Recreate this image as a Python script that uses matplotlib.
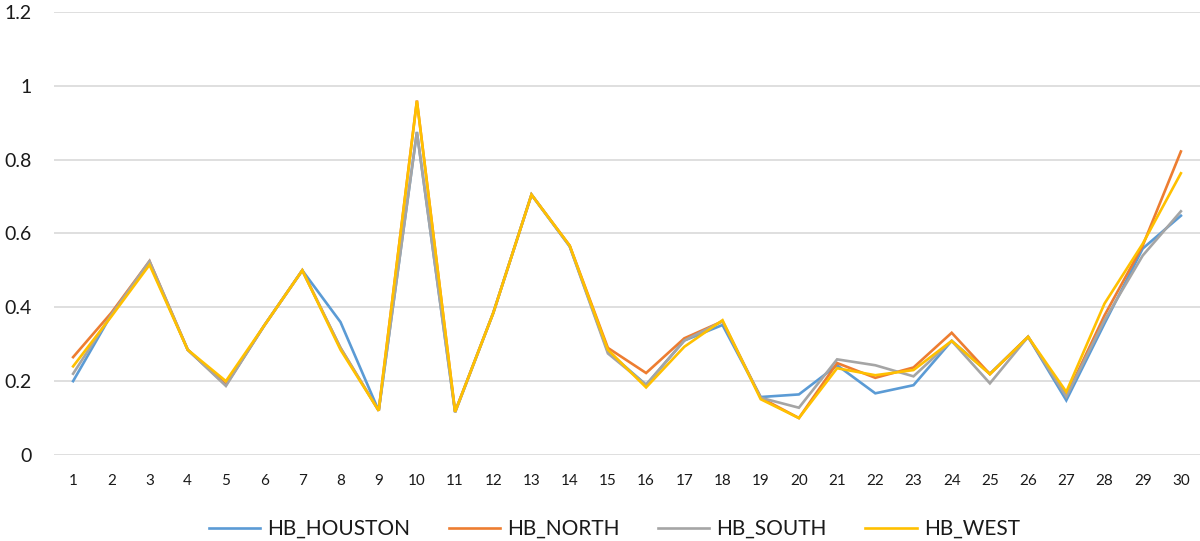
import matplotlib
matplotlib.use("Agg")
from matplotlib import pyplot as plt
import numpy as np

plt.rcParams['font.family'] = ['Lato', 'DejaVu Sans']

hours = list(range(1, 31))

houston = [0.20, 0.38, 0.52, 0.285, 0.19, 0.35, 0.50, 0.36, 0.12, 0.875,
           0.117, 0.385, 0.705, 0.565, 0.28, 0.19, 0.31, 0.352, 0.157, 0.164,
           0.243, 0.167, 0.189, 0.309, 0.22, 0.32, 0.148, 0.356, 0.559, 0.648]
north = [0.265, 0.385, 0.525, 0.285, 0.19, 0.35, 0.50, 0.29, 0.12, 0.96,
         0.117, 0.385, 0.705, 0.567, 0.29, 0.222, 0.316, 0.362, 0.155, 0.10,
         0.249, 0.209, 0.237, 0.331, 0.219, 0.32, 0.16, 0.378, 0.567, 0.822]
south = [0.22, 0.38, 0.525, 0.285, 0.187, 0.35, 0.50, 0.29, 0.12, 0.874,
         0.115, 0.385, 0.705, 0.565, 0.275, 0.19, 0.31, 0.362, 0.155, 0.128,
         0.259, 0.243, 0.213, 0.309, 0.194, 0.32, 0.158, 0.365, 0.54, 0.66]
west = [0.24, 0.375, 0.515, 0.285, 0.20, 0.35, 0.50, 0.285, 0.12, 0.959,
        0.117, 0.385, 0.705, 0.567, 0.285, 0.183, 0.293, 0.365, 0.151, 0.10,
        0.235, 0.216, 0.23, 0.309, 0.219, 0.32, 0.171, 0.41, 0.572, 0.763]

names = ["HB_HOUSTON", "HB_NORTH", "HB_SOUTH", "HB_WEST"]
colors = ["#5B9BD5", "#ED7D31", "#A5A5A5", "#FFC000"]
series = [houston, north, south, west]

fig = plt.figure(figsize=(12, 5.41), dpi=100)
ax = fig.add_axes([0.045, 0.159, 0.955, 0.819])

for vals, name, c in zip(series, names, colors):
    ax.plot(hours, vals, color=c, lw=1.9, label=name, solid_joinstyle="miter")

ax.set_xlim(0.5, 30.5)
ax.set_ylim(0, 1.2)
ax.set_yticks(np.arange(0, 1.21, 0.2))
ax.set_yticklabels(["0", "0.2", "0.4", "0.6", "0.8", "1", "1.2"])
ax.set_xticks(hours)
ax.grid(axis="y", color="#D9D9D9", lw=1.2)
ax.set_axisbelow(True)
for s in ax.spines.values():
    s.set_visible(False)
ax.tick_params(axis="both", length=0, colors="#1a1a1a")
ax.tick_params(axis="y", labelsize=14, pad=16)
ax.tick_params(axis="x", labelsize=11, pad=14)

fig.legend(loc="center", bbox_to_anchor=(0.512, 0.022), ncol=4, frameon=False,
           fontsize=15, handlelength=2.45, handletextpad=0.35,
           columnspacing=1.85, labelcolor="#1a1a1a")

fig.savefig("out.png", dpi=100)
